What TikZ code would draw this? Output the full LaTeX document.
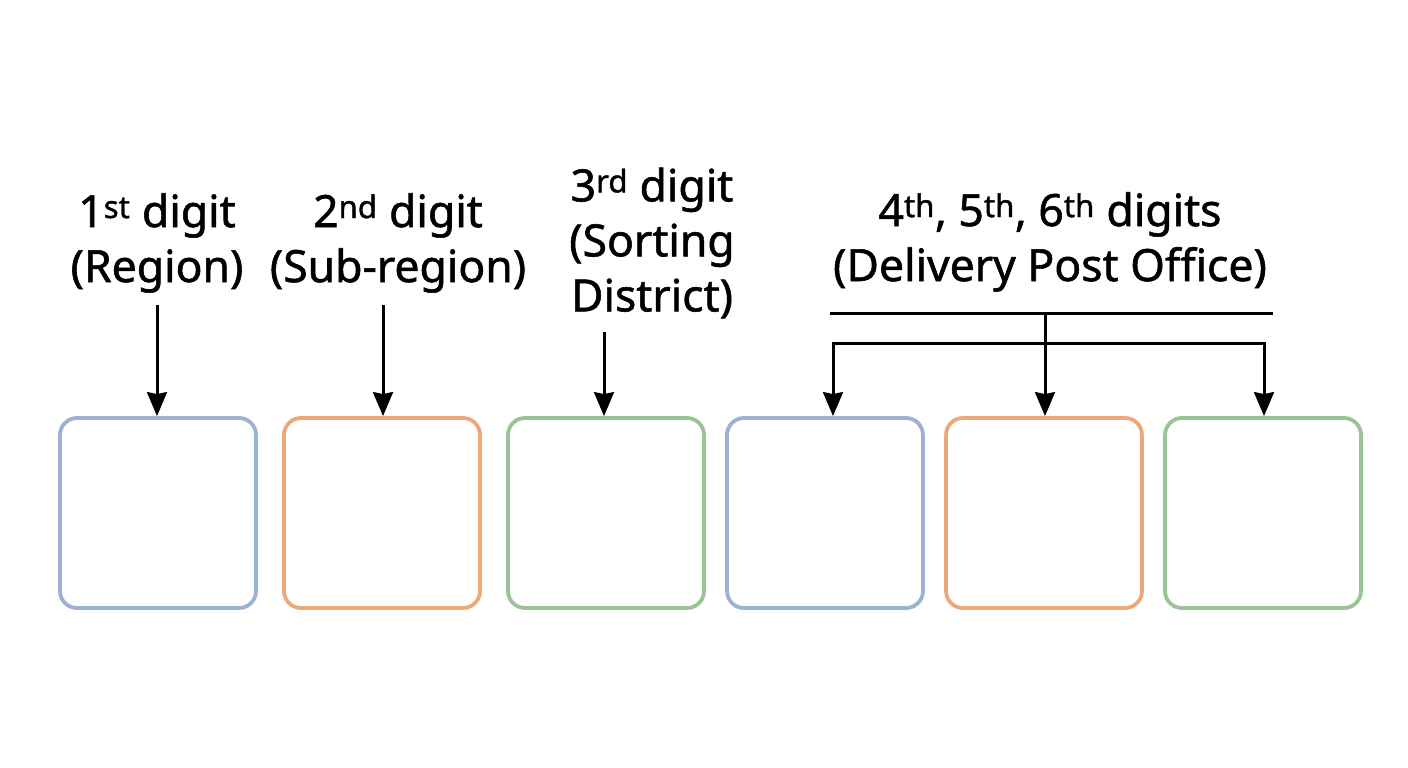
\documentclass[tikz,border=0pt]{standalone}
\usepackage{fontspec}
\setmainfont{Noto Sans}[FakeBold=1.2,BoldFont=Noto Sans]
\usetikzlibrary{arrows.meta}
\definecolor{cb}{HTML}{9DB1D2}
\definecolor{co}{HTML}{EBA97A}
\definecolor{cg}{HTML}{9BC397}
\begin{document}
\begin{tikzpicture}[x=1pt,y=-1pt,
 box/.style={draw=#1,line width=3.8pt,rounded corners=17pt,minimum width=196pt,minimum height=190pt,inner sep=0pt},
 lab/.style={align=center,font=\fontsize{44.5}{55}\selectfont\bfseries,inner sep=0pt},
 arr/.style={line width=3pt,-{Stealth[length=24pt,width=20pt,inset=2pt]}},
 ln/.style={line width=3pt}]
\useasboundingbox[fill=white] (0,0) rectangle (1408,768);
\node[box=cb] (b1) at (158,513) {};
\node[box=co] (b2) at (382,513) {};
\node[box=cg] (b3) at (606,513) {};
\node[box=cb] (b4) at (825,513) {};
\node[box=co] (b5) at (1044,513) {};
\node[box=cg] (b6) at (1263,513) {};
\node[lab] (l1) at (157,243) {1\textsuperscript{st} digit\\(Region)};
\node[lab] (l2) at (398,243) {2\textsuperscript{nd} digit\\(Sub-region)};
\node[lab] (l3) at (652,243) {3\textsuperscript{rd} digit\\(Sorting\\District)};
\node[lab] (l4) at (1050,242) {4\textsuperscript{th}, 5\textsuperscript{th}, 6\textsuperscript{th} digits\\(Delivery Post Office)};
\coordinate (a1) at (157,305);
\coordinate (a2) at (383,305);
\coordinate (a3) at (604,332);
\draw[arr] (a1) -- (b1.north -| a1);
\draw[arr] (a2) -- (b2.north -| a2);
\draw[arr] (a3) -- (b3.north -| a3);
\coordinate (bl) at (830,313);
\coordinate (br) at (1273,313);
\coordinate (bm) at (1045,313);
\coordinate (hl) at (833,343);
\coordinate (hr) at (1264,343);
\draw[ln] (bl) -- (br);
\draw[arr] (bm) -- (b5.north -| bm);
\draw[arr,line cap=rect] (hr) -- (hl) -- (b4.north -| hl);
\draw[arr] (hr) -- (b6.north -| hr);
\end{tikzpicture}
\end{document}
